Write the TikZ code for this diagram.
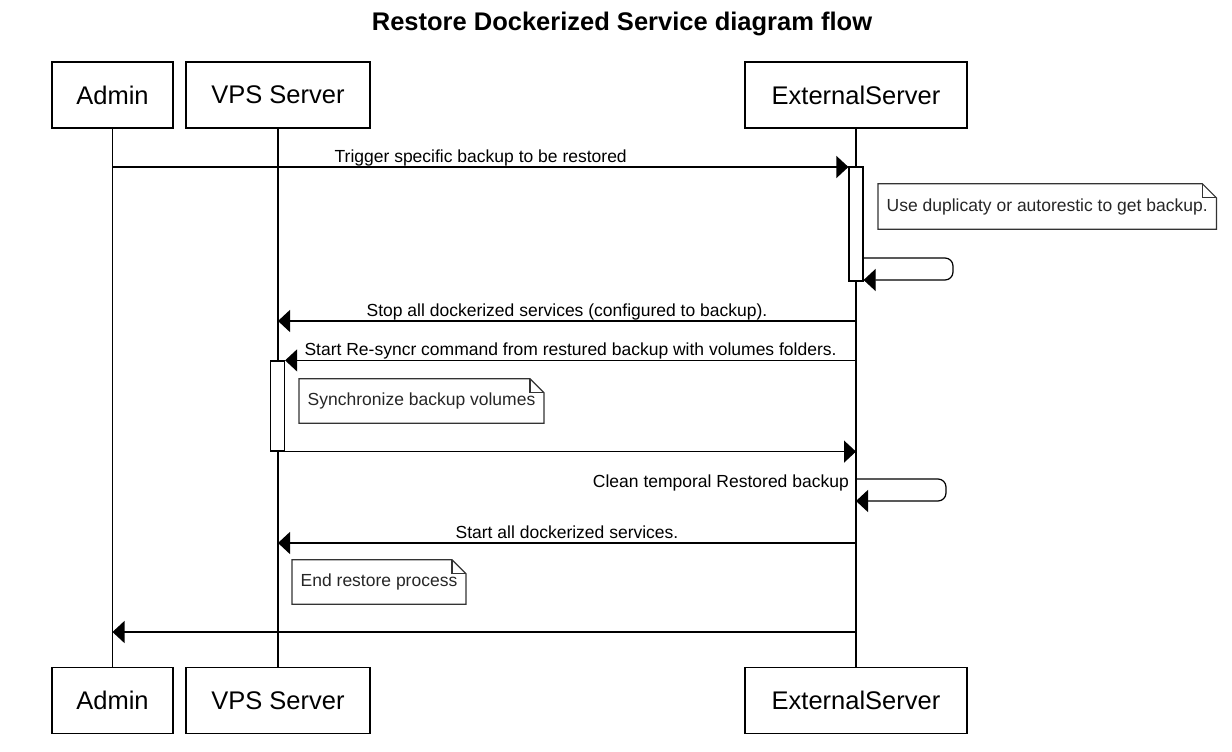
\documentclass[tikz,border=0pt]{standalone}
\usepackage{fontspec}
\setmainfont{Liberation Sans}
\usetikzlibrary{arrows.meta,calc}

\tikzset{
  actor/.style={draw, line width=1.2pt, minimum height=66pt, inner sep=0pt, font=\fontsize{25.5}{30}\selectfont},
  lifeline/.style={line width=1.2pt},
  activ/.style={draw, fill=white, line width=1.2pt, minimum width=14pt, inner sep=0pt},
  msg/.style={line width=1.2pt, -{Triangle[length=12pt,width=22pt]}},
  msgtext/.style={font=\fontsize{17.5}{21}\selectfont, inner sep=0pt},
  notetext/.style={font=\fontsize{17.5}{21}\selectfont, inner xsep=8.5pt, inner ysep=0pt, minimum height=45pt, anchor=west, text=black!85},
}
\newcommand{\notefold}[1]{%
  \draw[line width=1.2pt, draw=black!80] (#1.south west) -- (#1.north west) -- ([xshift=-14pt]#1.north east) -- ([yshift=-14pt]#1.north east) -- (#1.south east) -- cycle;
  \draw[line width=1.2pt, draw=black!80] ([xshift=-14pt]#1.north east) |- ([yshift=-14pt]#1.north east);
}

\begin{document}
\begin{tikzpicture}[x=1pt, y=-1pt]
\useasboundingbox (0,0) rectangle (1232,752);
%タイトル%
\node[font=\bfseries\fontsize{25.5}{30}\selectfont, anchor=base] (title) at (622,31) {Restore Dockerized Service diagram flow};
%参加者%
\node[actor, minimum width=121pt] (adminT) at (112.5,95) {Admin};
\node[actor, minimum width=184pt] (vpsT) at (278,95) {VPS Server};
\node[actor, minimum width=222pt] (extT) at (856,95) {ExternalServer};
\node[actor, minimum width=121pt] (adminB) at (112.5,700.5) {Admin};
\node[actor, minimum width=184pt] (vpsB) at (278,700.5) {VPS Server};
\node[actor, minimum width=222pt] (extB) at (856,700.5) {ExternalServer};
%ライフライン%
\draw[lifeline] (adminT.south) -- (adminB.north);
\draw[lifeline] (vpsT.south) -- (vpsB.north);
\draw[lifeline] (extT.south) -- (extB.north);
%活性化%
\node[activ, minimum height=114pt] (extAct) at (856,224) {};
\node[activ, minimum height=90pt] (vpsAct) at (277.5,406) {};
%メッセージ%
\coordinate (m1) at (113,167);
\draw[msg] (m1) -- (m1 -| extAct.west)
  node[msgtext, pos=0.5, anchor=base, yshift=4.5pt] {Trigger specific backup to be restored};
\draw[msg, rounded corners=8pt] (extAct.east |- 0,258) -- (953,258) -- (953,280) -- (extAct.east |- 0,280);
\coordinate (m2) at (856,321);
\draw[msg] (m2) -- (m2 -| vpsT.south)
  node[msgtext, pos=0.5, anchor=base, yshift=4.5pt] {Stop all dockerized services (configured to backup).};
\draw[msg] (extAct.south |- vpsAct.north) -- (vpsAct.north east)
  node[msgtext, pos=0.5, anchor=base, yshift=4.5pt] {Start Re-syncr command from restured backup with volumes folders.};
\draw[msg] (vpsAct.south east) -- (extAct.south |- vpsAct.south);
\coordinate (m5) at (856,479);
\draw[msg, rounded corners=8pt] (m5) -- (946,479) -- (946,501) -- (856,501);
\node[msgtext, anchor=base east] (cleanLbl) at (849,487) {Clean temporal Restored backup};
\coordinate (m6) at (856,543);
\draw[msg] (m6) -- (m6 -| vpsT.south)
  node[msgtext, pos=0.5, anchor=base, yshift=4.5pt] {Start all dockerized services.};
\coordinate (m7) at (856,632);
\draw[msg] (m7) -- (m7 -| adminT.south);
%ノート%
\node[notetext] (note1) at (878,206.5) {Use duplicaty or autorestic to get backup.};
\notefold{note1}
\node[notetext, minimum height=44pt] (note2) at (299,401) {Synchronize backup volumes};
\notefold{note2}
\node[notetext, minimum height=44pt] (note3) at (292,582) {End restore process};
\notefold{note3}
\end{tikzpicture}
\end{document}
